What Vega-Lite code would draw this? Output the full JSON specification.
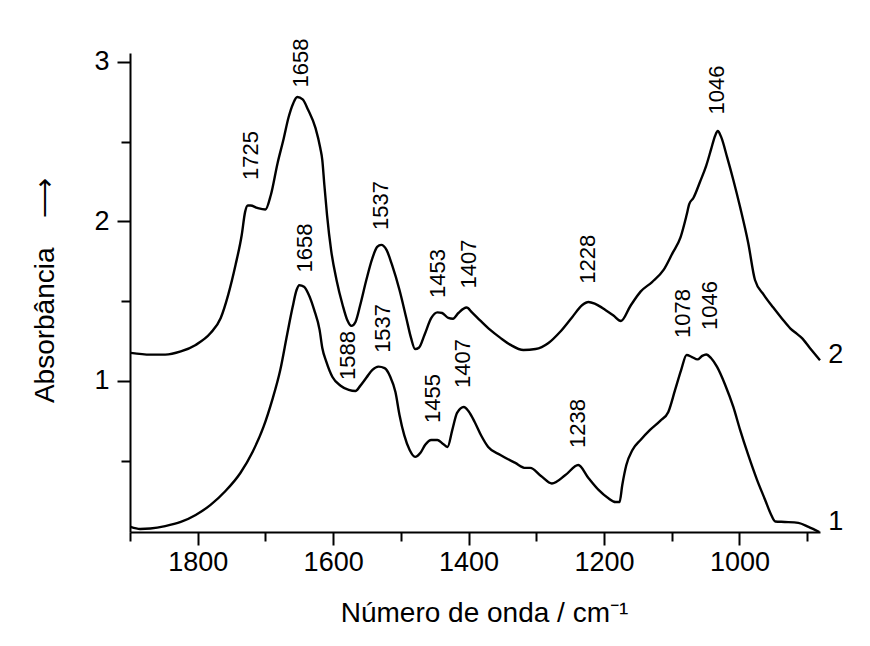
{
  "$schema": "https://vega.github.io/schema/vega-lite/v6.json",
  "autosize": {"type": "none"},
  "padding": {"left": 130, "top": 53, "right": 50, "bottom": 114},
  "width": 690,
  "height": 479,
  "background": "white",
  "config": {
    "view": {"stroke": null},
    "font": "Liberation Sans",
    "axis": {
      "domainColor": "black", "domainWidth": 2, "tickColor": "black", "tickWidth": 2,
      "labelColor": "black", "titleColor": "black", "labelFont": "Liberation Sans",
      "titleFont": "Liberation Sans", "labelFontSize": 27, "titleFontSize": 28,
      "titleFontWeight": "normal", "grid": false
    }
  },
  "datasets": {
    "curves": [
      {"s":"2","w":1899,"a":1.176},{"s":"2","w":1870,"a":1.165},{"s":"2","w":1848,"a":1.165},{"s":"2","w":1825,"a":1.185},{"s":"2","w":1803,"a":1.226},{"s":"2","w":1781,"a":1.30},{"s":"2","w":1766,"a":1.395},{"s":"2","w":1755,"a":1.54},{"s":"2","w":1744,"a":1.73},{"s":"2","w":1735,"a":1.915},{"s":"2","w":1730,"a":2.06},{"s":"2","w":1726,"a":2.10},{"s":"2","w":1722,"a":2.10},{"s":"2","w":1712,"a":2.085},{"s":"2","w":1700,"a":2.075},{"s":"2","w":1692,"a":2.166},{"s":"2","w":1682,"a":2.367},{"s":"2","w":1673,"a":2.52},{"s":"2","w":1666,"a":2.65},{"s":"2","w":1659,"a":2.74},{"s":"2","w":1653,"a":2.78},{"s":"2","w":1645,"a":2.765},{"s":"2","w":1637,"a":2.70},{"s":"2","w":1626,"a":2.585},{"s":"2","w":1619,"a":2.46},{"s":"2","w":1616,"a":2.385},{"s":"2","w":1613,"a":2.23},{"s":"2","w":1609,"a":2.04},{"s":"2","w":1603,"a":1.82},{"s":"2","w":1595,"a":1.633},{"s":"2","w":1586,"a":1.476},{"s":"2","w":1579,"a":1.38},{"s":"2","w":1573,"a":1.345},{"s":"2","w":1567,"a":1.37},{"s":"2","w":1560,"a":1.476},{"s":"2","w":1551,"a":1.633},{"s":"2","w":1542,"a":1.77},{"s":"2","w":1535,"a":1.84},{"s":"2","w":1529,"a":1.853},{"s":"2","w":1521,"a":1.82},{"s":"2","w":1513,"a":1.727},{"s":"2","w":1502,"a":1.57},{"s":"2","w":1492,"a":1.395},{"s":"2","w":1485,"a":1.27},{"s":"2","w":1479,"a":1.20},{"s":"2","w":1473,"a":1.21},{"s":"2","w":1465,"a":1.29},{"s":"2","w":1455,"a":1.395},{"s":"2","w":1446,"a":1.43},{"s":"2","w":1439,"a":1.426},{"s":"2","w":1430,"a":1.395},{"s":"2","w":1423,"a":1.39},{"s":"2","w":1415,"a":1.426},{"s":"2","w":1403,"a":1.46},{"s":"2","w":1395,"a":1.43},{"s":"2","w":1383,"a":1.38},{"s":"2","w":1368,"a":1.32},{"s":"2","w":1353,"a":1.27},{"s":"2","w":1338,"a":1.226},{"s":"2","w":1319,"a":1.194},{"s":"2","w":1301,"a":1.20},{"s":"2","w":1282,"a":1.238},{"s":"2","w":1265,"a":1.307},{"s":"2","w":1247,"a":1.40},{"s":"2","w":1232,"a":1.476},{"s":"2","w":1223,"a":1.495},{"s":"2","w":1213,"a":1.483},{"s":"2","w":1198,"a":1.445},{"s":"2","w":1186,"a":1.41},{"s":"2","w":1175,"a":1.376},{"s":"2","w":1161,"a":1.47},{"s":"2","w":1146,"a":1.56},{"s":"2","w":1129,"a":1.62},{"s":"2","w":1112,"a":1.696},{"s":"2","w":1099,"a":1.80},{"s":"2","w":1087,"a":1.90},{"s":"2","w":1078,"a":2.04},{"s":"2","w":1074,"a":2.11},{"s":"2","w":1068,"a":2.147},{"s":"2","w":1058,"a":2.25},{"s":"2","w":1049,"a":2.35},{"s":"2","w":1042,"a":2.45},{"s":"2","w":1036,"a":2.536},{"s":"2","w":1032,"a":2.567},{"s":"2","w":1027,"a":2.53},{"s":"2","w":1018,"a":2.40},{"s":"2","w":1009,"a":2.26},{"s":"2","w":999,"a":2.09},{"s":"2","w":987,"a":1.865},{"s":"2","w":977,"a":1.633},{"s":"2","w":964,"a":1.54},{"s":"2","w":950,"a":1.46},{"s":"2","w":937,"a":1.39},{"s":"2","w":925,"a":1.33},{"s":"2","w":915,"a":1.295},{"s":"2","w":908,"a":1.27},{"s":"2","w":896,"a":1.207},{"s":"2","w":881,"a":1.13},
      {"s":"1","w":1899,"a":0.085},{"s":"1","w":1885,"a":0.072},{"s":"1","w":1870,"a":0.075},{"s":"1","w":1848,"a":0.09},{"s":"1","w":1825,"a":0.116},{"s":"1","w":1803,"a":0.16},{"s":"1","w":1781,"a":0.223},{"s":"1","w":1759,"a":0.31},{"s":"1","w":1737,"a":0.423},{"s":"1","w":1719,"a":0.555},{"s":"1","w":1703,"a":0.71},{"s":"1","w":1690,"a":0.88},{"s":"1","w":1678,"a":1.07},{"s":"1","w":1668,"a":1.29},{"s":"1","w":1660,"a":1.46},{"s":"1","w":1654,"a":1.57},{"s":"1","w":1650,"a":1.60},{"s":"1","w":1643,"a":1.59},{"s":"1","w":1636,"a":1.54},{"s":"1","w":1628,"a":1.445},{"s":"1","w":1620,"a":1.32},{"s":"1","w":1616,"a":1.207},{"s":"1","w":1610,"a":1.12},{"s":"1","w":1601,"a":1.025},{"s":"1","w":1589,"a":0.97},{"s":"1","w":1577,"a":0.944},{"s":"1","w":1567,"a":0.937},{"s":"1","w":1560,"a":0.969},{"s":"1","w":1551,"a":1.02},{"s":"1","w":1542,"a":1.07},{"s":"1","w":1533,"a":1.09},{"s":"1","w":1524,"a":1.08},{"s":"1","w":1516,"a":1.03},{"s":"1","w":1508,"a":0.93},{"s":"1","w":1502,"a":0.787},{"s":"1","w":1495,"a":0.66},{"s":"1","w":1487,"a":0.567},{"s":"1","w":1479,"a":0.524},{"s":"1","w":1471,"a":0.55},{"s":"1","w":1464,"a":0.60},{"s":"1","w":1455,"a":0.63},{"s":"1","w":1446,"a":0.63},{"s":"1","w":1439,"a":0.61},{"s":"1","w":1431,"a":0.586},{"s":"1","w":1424,"a":0.693},{"s":"1","w":1417,"a":0.80},{"s":"1","w":1407,"a":0.837},{"s":"1","w":1400,"a":0.81},{"s":"1","w":1391,"a":0.743},{"s":"1","w":1381,"a":0.655},{"s":"1","w":1371,"a":0.586},{"s":"1","w":1353,"a":0.536},{"s":"1","w":1331,"a":0.486},{"s":"1","w":1316,"a":0.455},{"s":"1","w":1309,"a":0.455},{"s":"1","w":1293,"a":0.404},{"s":"1","w":1277,"a":0.357},{"s":"1","w":1257,"a":0.41},{"s":"1","w":1238,"a":0.473},{"s":"1","w":1223,"a":0.392},{"s":"1","w":1208,"a":0.317},{"s":"1","w":1194,"a":0.266},{"s":"1","w":1183,"a":0.241},{"s":"1","w":1177,"a":0.241},{"s":"1","w":1173,"a":0.348},{"s":"1","w":1167,"a":0.473},{"s":"1","w":1158,"a":0.567},{"s":"1","w":1146,"a":0.63},{"s":"1","w":1132,"a":0.693},{"s":"1","w":1117,"a":0.75},{"s":"1","w":1105,"a":0.806},{"s":"1","w":1095,"a":0.944},{"s":"1","w":1086,"a":1.07},{"s":"1","w":1078,"a":1.163},{"s":"1","w":1070,"a":1.15},{"s":"1","w":1062,"a":1.135},{"s":"1","w":1055,"a":1.157},{"s":"1","w":1049,"a":1.166},{"s":"1","w":1042,"a":1.144},{"s":"1","w":1033,"a":1.088},{"s":"1","w":1021,"a":0.975},{"s":"1","w":1009,"a":0.837},{"s":"1","w":999,"a":0.693},{"s":"1","w":987,"a":0.536},{"s":"1","w":974,"a":0.38},{"s":"1","w":962,"a":0.254},{"s":"1","w":953,"a":0.16},{"s":"1","w":947,"a":0.119},{"s":"1","w":933,"a":0.116},{"s":"1","w":913,"a":0.11},{"s":"1","w":898,"a":0.085},{"s":"1","w":882,"a":0.053}
    ],
    "peaks": [
      {"label":"1725","w":1722,"a":2.26},
      {"label":"1658","w":1647,"a":2.84},
      {"label":"1537","w":1529,"a":1.947},
      {"label":"1453","w":1445,"a":1.52},
      {"label":"1407","w":1400,"a":1.58},
      {"label":"1228","w":1223,"a":1.61},
      {"label":"1046","w":1033,"a":2.67},
      {"label":"1658","w":1642,"a":1.68},
      {"label":"1588","w":1578,"a":1.006},
      {"label":"1537","w":1527,"a":1.176},
      {"label":"1455","w":1453,"a":0.737},
      {"label":"1407","w":1408,"a":0.956},
      {"label":"1238","w":1238,"a":0.58},
      {"label":"1078","w":1083,"a":1.27},
      {"label":"1046","w":1043,"a":1.32}
    ],
    "ends": [
      {"label":"2","w":869,"a":1.163},
      {"label":"1","w":869,"a":0.116}
    ]
  },
  "layer": [
    {
      "data": {"name": "curves"},
      "mark": {"type": "line", "color": "black", "strokeWidth": 2.4, "interpolate": "monotone"},
      "encoding": {
        "x": {"field": "w", "type": "quantitative", "scale": {"domain": [881, 1900], "reverse": true, "nice": false, "zero": false},
              "axis": {"orient": "bottom", "values": [1800, 1600, 1400, 1200, 1000], "tickSize": 13, "labelPadding": 4, "format": "d",
                       "title": "Número de onda / cm⁻¹", "titleX": 354, "titleY": 89, "titleBaseline": "alphabetic", "titleAlign": "center"}},
        "y": {"field": "a", "type": "quantitative", "scale": {"domain": [0.053, 3.056], "nice": false, "zero": false},
              "axis": {"orient": "left", "values": [1, 2, 3], "tickSize": 13, "labelPadding": 8, "format": "d",
                       "title": "Absorbância \u2002 ⟶", "titleX": -85, "titleY": 237, "titleBaseline": "middle", "titleAlign": "center", "titleAngle": -90}},
        "detail": {"field": "s"}
      }
    },
    {
      "data": {"name": "peaks"},
      "mark": {"type": "text", "angle": -90, "align": "left", "baseline": "middle", "fontSize": 22, "font": "Liberation Sans", "color": "black"},
      "encoding": {
        "x": {"field": "w", "type": "quantitative",
              "axis": {"orient": "bottom", "values": [1900, 1700, 1500, 1300, 1100, 900], "tickSize": 9, "labels": false, "domain": false, "title": null}},
        "y": {"field": "a", "type": "quantitative",
              "axis": {"orient": "left", "values": [0.5, 1.5, 2.5], "tickSize": 9, "labels": false, "domain": false, "title": null}},
        "text": {"field": "label"}
      }
    },
    {
      "data": {"name": "ends"},
      "mark": {"type": "text", "align": "left", "baseline": "middle", "fontSize": 27, "font": "Liberation Sans", "color": "black"},
      "encoding": {
        "x": {"field": "w", "type": "quantitative", "axis": null},
        "y": {"field": "a", "type": "quantitative", "axis": null},
        "text": {"field": "label"}
      }
    }
  ],
  "resolve": {"axis": {"x": "independent", "y": "independent"}}
}
